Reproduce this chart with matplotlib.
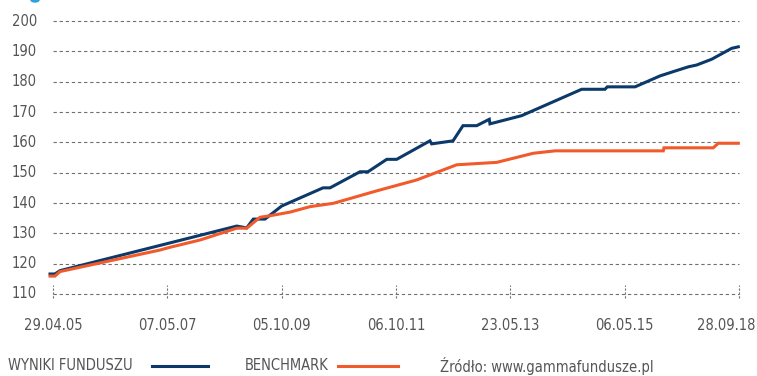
import matplotlib
matplotlib.use("Agg")
import matplotlib.pyplot as plt
from matplotlib.lines import Line2D
from matplotlib.patches import Circle

plt.rcParams['font.family'] = ['DejaVu Sans']
plt.rcParams['font.stretch'] = 'condensed'

# Evenly spaced date labels on the horizontal axis
tick_labels = ["29.04.05", "07.05.07", "05.10.09", "06.10.11", "23.05.13", "06.05.15", "28.09.18"]
y_ticks = [110, 120, 130, 140, 150, 160, 170, 180, 190, 200]

# Fund results (position along the label scale, value)
fund_x = [-0.026, 0.017, 0.061, 1.607, 1.694, 1.752, 1.854, 2.000, 2.362, 2.423, 2.685, 2.755,
          2.919, 3.006, 3.297, 3.312, 3.499, 3.586, 3.706, 3.816, 3.822, 4.099, 4.624, 4.828,
          4.848, 5.091, 5.309, 5.440, 5.557, 5.630, 5.761, 5.936, 5.994]
fund_y = [116.6, 116.6, 117.7, 132.4, 131.8, 134.7, 134.7, 139.0, 145.0, 145.0, 150.3, 150.3,
          154.4, 154.4, 160.5, 159.5, 160.5, 165.5, 165.5, 167.6, 166.1, 168.8, 177.5, 177.5,
          178.3, 178.3, 181.9, 183.5, 184.9, 185.5, 187.4, 191.0, 191.5]

# Benchmark
bench_x = [-0.026, 0.017, 0.061, 0.936, 1.023, 1.286, 1.607, 1.694, 1.811, 1.898, 2.073, 2.248,
           2.452, 2.831, 3.181, 3.531, 3.881, 4.201, 4.391, 5.338, 5.344, 5.775, 5.819, 5.994]
bench_y = [115.9, 115.9, 117.4, 124.5, 125.4, 127.8, 131.7, 131.7, 135.3, 135.8, 137.0, 138.8,
           139.9, 144.0, 147.6, 152.6, 153.4, 156.4, 157.2, 157.2, 158.2, 158.2, 159.7, 159.7]

BLUE = "#0b3a6a"
ORANGE = "#f15a2b"
TEXT = "#555555"
GRID = "#707070"
FS = 10.5

W, H = 757, 376
fig = plt.figure(figsize=(W / 100, H / 100), dpi=100)
fig.patch.set_facecolor("white")

# axes placement in pixels
px_per_u = 114.33
px_per_v = 3.033
xlim = (-0.05, 6.05)
ylim = (107, 203)
left_px = 53 + xlim[0] * px_per_u
width_px = (xlim[1] - xlim[0]) * px_per_u
bottom_px = 294 + (110 - ylim[0]) * px_per_v
height_px = (ylim[1] - ylim[0]) * px_per_v
ax = fig.add_axes([left_px / W, (H - bottom_px) / H, width_px / W, height_px / H])
ax.set_xlim(*xlim)
ax.set_ylim(*ylim)
ax.axis("off")

n = len(tick_labels)
for v in y_ticks:
    ax.hlines(v, 0, n - 1, colors=GRID, linewidth=0.8, linestyles=(0, (3, 2.5)), zorder=1)
    ax.text(-0.14, v, str(v), ha="right", va="center", fontsize=FS, color=TEXT)

for i, lab in enumerate(tick_labels):
    ax.vlines(i, 108.7, 113.0, colors=GRID, linewidth=0.8, linestyles=(0, (2, 1.5)), zorder=1)
    if i == n - 1:
        # last label kept inside the right edge
        ax.text(i + 0.14, 99.5, lab, ha="right", va="center", fontsize=FS, color=TEXT)
    else:
        ax.text(i, 99.5, lab, ha="center", va="center", fontsize=FS, color=TEXT)

ax.plot(fund_x, fund_y, color=BLUE, linewidth=2.2, solid_joinstyle="miter", zorder=3, clip_on=False)
ax.plot(bench_x, bench_y, color=ORANGE, linewidth=2.2, solid_joinstyle="miter", zorder=4, clip_on=False)

# legend and source line
ly = 1 - 366 / H
fig.text(8 / W, ly, "WYNIKI FUNDUSZU", ha="left", va="center", fontsize=FS, color=TEXT)
fig.add_artist(Line2D([152 / W, 208 / W], [ly, ly], color=BLUE, linewidth=2.2))
fig.text(245 / W, ly, "BENCHMARK", ha="left", va="center", fontsize=FS, color=TEXT)
fig.add_artist(Line2D([338 / W, 398 / W], [ly, ly], color=ORANGE, linewidth=2.2))
fig.text(440 / W, ly, "Źródło: www.gammafundusze.pl", ha="left", va="center", fontsize=FS, color=TEXT)

# small marker at the top-left edge
fig.add_artist(Circle((35 / W, 1.0), 4 / W, color="#29a3dd", transform=fig.transFigure))

fig.savefig("out.png", dpi=100)
